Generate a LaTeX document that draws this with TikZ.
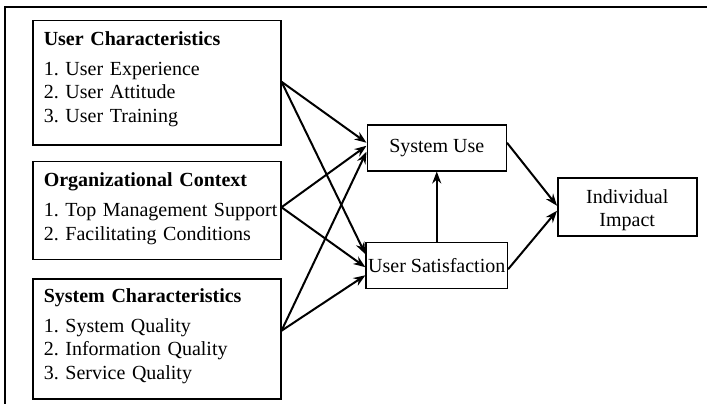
\documentclass[tikz,border=0pt]{standalone}
\usepackage{fontspec}
\setmainfont{Liberation Serif}
\usetikzlibrary{positioning,arrows.meta}
\frenchspacing
% extra depth under the last line of a list box
\newcommand{\listfoot}[1]{\rule[-#1]{0pt}{#1}}
\tikzset{
	factor/.style = {draw, line width=1.5pt, text width=226pt, inner xsep=11pt,
	 align=left, font=\fontsize{20}{23.5}\selectfont},
	construct/.style = {draw, line width=1.5pt, minimum width=139pt,
	 minimum height=46pt, inner sep=2pt, align=center,
	 font=\fontsize{20}{23}\selectfont},
	link/.style = {line width=2pt, -{Stealth[length=12pt,width=9pt]}}
}

\begin{document}
\begin{tikzpicture}[x=1pt, y=-1pt]
\useasboundingbox (0,0) rectangle (707,404);
% frame
\draw [line width=1.5pt] (707,7) -- (5,7) -- (5,404);

% NODES
% antecedents
\node (uc) [factor, minimum height=124pt, anchor=north west] at (32,20)
	{\textbf{User Characteristics}\\[6.5pt]
	 1. User Experience\\ 2. User Attitude\\ 3. User Training\listfoot{11.5pt}};
\node (oc) [factor, minimum height=98pt, below=15pt of uc]
	{\textbf{Organizational Context}\\[6.5pt]
	 \mbox{1. Top Management Support}\\ 2. Facilitating Conditions\listfoot{7.5pt}};
\node (sc) [factor, minimum height=120pt, below=18pt of oc]
	{\textbf{System Characteristics}\\[6.5pt]
	 1. System Quality\\ 2. Information Quality\\ 3. Service Quality\listfoot{9.5pt}};
% use, satisfaction, impact
\node (su) [construct, right=85pt of uc, yshift=-65pt] {System Use};
\node (us) [construct, below=70pt of su] {User Satisfaction};
\node (ii) [construct, minimum height=58pt, right=50pt of su, yshift=-59pt]
	{\rule{0pt}{20pt}Individual\\Impact};

% CONNECTIONS
\draw [link] ([yshift=1pt]uc.east) -- ([yshift=5pt]su.west);
\draw [link] ([yshift=1pt]uc.east) -- ([yshift=11pt]us.west);
\draw [link] ([yshift=3pt]oc.east) -- ([yshift=2pt]su.west);
\draw [link] ([yshift=3pt]oc.east) -- ([yshift=-2pt]us.west);
\draw [link] ([yshift=8pt]sc.east) -- ([yshift=-4pt]su.west);
\draw [link] ([yshift=8pt]sc.east) -- ([yshift=-10pt]us.west);
\draw [link] (us) -- (su);
\draw [link] ([yshift=5pt]su.east) -- ([yshift=1pt]ii.west);
\draw [link] ([yshift=-4pt]us.east) -- ([yshift=-4pt]ii.west);

\end{tikzpicture}
\end{document}
